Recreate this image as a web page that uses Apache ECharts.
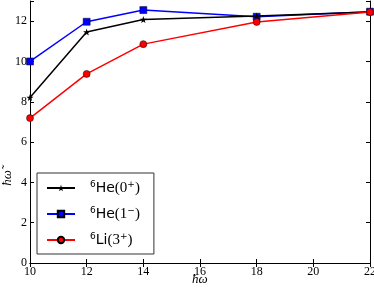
<!DOCTYPE html>
<html><head><meta charset="utf-8">
<script src="https://cdn.jsdelivr.net/npm/echarts@6/dist/echarts.min.js"></script>
<style>html,body{margin:0;padding:0;background:#fff}#c{width:374px;height:288px}</style>
</head><body><div id="c"></div>
<script>
const xValues = [10, 12, 14, 18, 22];
const he0 = [8.21, 11.46, 12.08, 12.25, 12.45];
const he1 = [10.0, 11.97, 12.55, 12.22, 12.47];
const li3 = [7.19, 9.38, 10.86, 11.96, 12.45];
const names = ['He0', 'He1', 'Li3'];
const xTicks = [10, 12, 14, 16, 18, 20, 22];
const yTicks = [0, 2, 4, 6, 8, 10, 12];
const xName = 'ħω';
const yName = 'ħω̃';

const star = 'path://M0,-10 L2.35,-3.24 L9.51,-3.09 L3.8,1.24 L5.88,8.09 L0,4 L-5.88,8.09 L-3.8,1.24 L-9.51,-3.09 L-2.35,-3.24 Z';
const serif = 'Liberation Serif';
const sans = 'DejaVu Sans';

function pairs(ys){ return xValues.map((x,i)=>[x, ys[i]]); }

const labels = {
  He0: '{sup|6}{he|He}{m|(0}{sup|+}{m|)}',
  He1: '{sup|6}{he|He}{m|(1}{sup|−}{m|)}',
  Li3: '{sup|6}{he|Li}{m|(3}{sup|+}{m|)}'
};

const axisCommon = {
  axisLine: {show: true, lineStyle: {color: '#000', width: 1}},
  axisTick: {show: true, inside: true, length: 4, lineStyle: {color: '#000'}},
  splitLine: {show: false}
};

const chart = echarts.init(document.getElementById('c'));
chart.setOption({
  animation: false,
  grid: {left: 30, right: 4, top: 1, bottom: 25, containLabel: false, outerBoundsMode: 'none'},
  graphic: [
    {type: 'text', left: 192, top: 273, style: {text: xName, font: 'italic 13px "Liberation Serif"', fill: '#000'}},
    {type: 'group', left: 1, top: 170, children: [
      {type: 'text', rotation: Math.PI / 2, x: 0, y: 0,
       style: {text: yName, font: 'italic 13px "Liberation Serif"', fill: '#000'}}
    ]}
  ],
  xAxis: [
    Object.assign({type: 'value', min: 10, max: 22, interval: 2,
      axisLabel: {fontFamily: serif, fontSize: 12, color: '#000', margin: 3}}, axisCommon),
    Object.assign({type: 'value', min: 10, max: 22, interval: 2, position: 'top',
      axisLabel: {show: false}}, axisCommon)
  ],
  yAxis: [
    Object.assign({type: 'value', min: 0, max: 13, interval: 2,
      axisLabel: {fontFamily: serif, fontSize: 12, color: '#000', margin: 3,
        formatter: v => yTicks.includes(v) ? String(v) : ''}}, axisCommon),
    Object.assign({type: 'value', min: 0, max: 13, interval: 2, position: 'right',
      axisLabel: {show: false}}, axisCommon)
  ],
  legend: {
    left: 37, top: 173, orient: 'vertical',
    padding: [7, 14, 6, 9], itemGap: 10, itemWidth: 28, itemHeight: 8,
    borderColor: '#333', borderWidth: 1, backgroundColor: '#fff', borderRadius: 0,
    data: names,
    formatter: n => labels[n],
    textStyle: {
      color: '#000', fontSize: 14, padding: [0, 0, 0, 10], lineHeight: 16,
      rich: {
        sup: {fontFamily: sans, fontSize: 9, verticalAlign: 'top', padding: [0, 0, 7, 0], color: '#000'},
        he: {fontFamily: sans, fontSize: 14, color: '#000'},
        m: {fontFamily: serif, fontSize: 15, color: '#000'}
      }
    }
  },
  series: [
    {name: 'He0', type: 'line', data: pairs(he0), color: '#000', symbol: star, symbolSize: 7,
     lineStyle: {width: 1.5, color: '#000'}, itemStyle: {color: '#000'}, z: 3},
    {name: 'He1', type: 'line', data: pairs(he1), color: '#0000ff', symbol: 'rect', symbolSize: 7,
     lineStyle: {width: 1.5, color: '#0000ff'}, itemStyle: {color: '#0000ff', borderColor: '#000', borderWidth: 0.5}, z: 2},
    {name: 'Li3', type: 'line', data: pairs(li3), color: '#ff0000', symbol: 'circle', symbolSize: 7,
     lineStyle: {width: 1.5, color: '#ff0000'}, itemStyle: {color: '#ff0000', borderColor: '#000', borderWidth: 0.5}, z: 4}
  ]
});
</script></body></html>
